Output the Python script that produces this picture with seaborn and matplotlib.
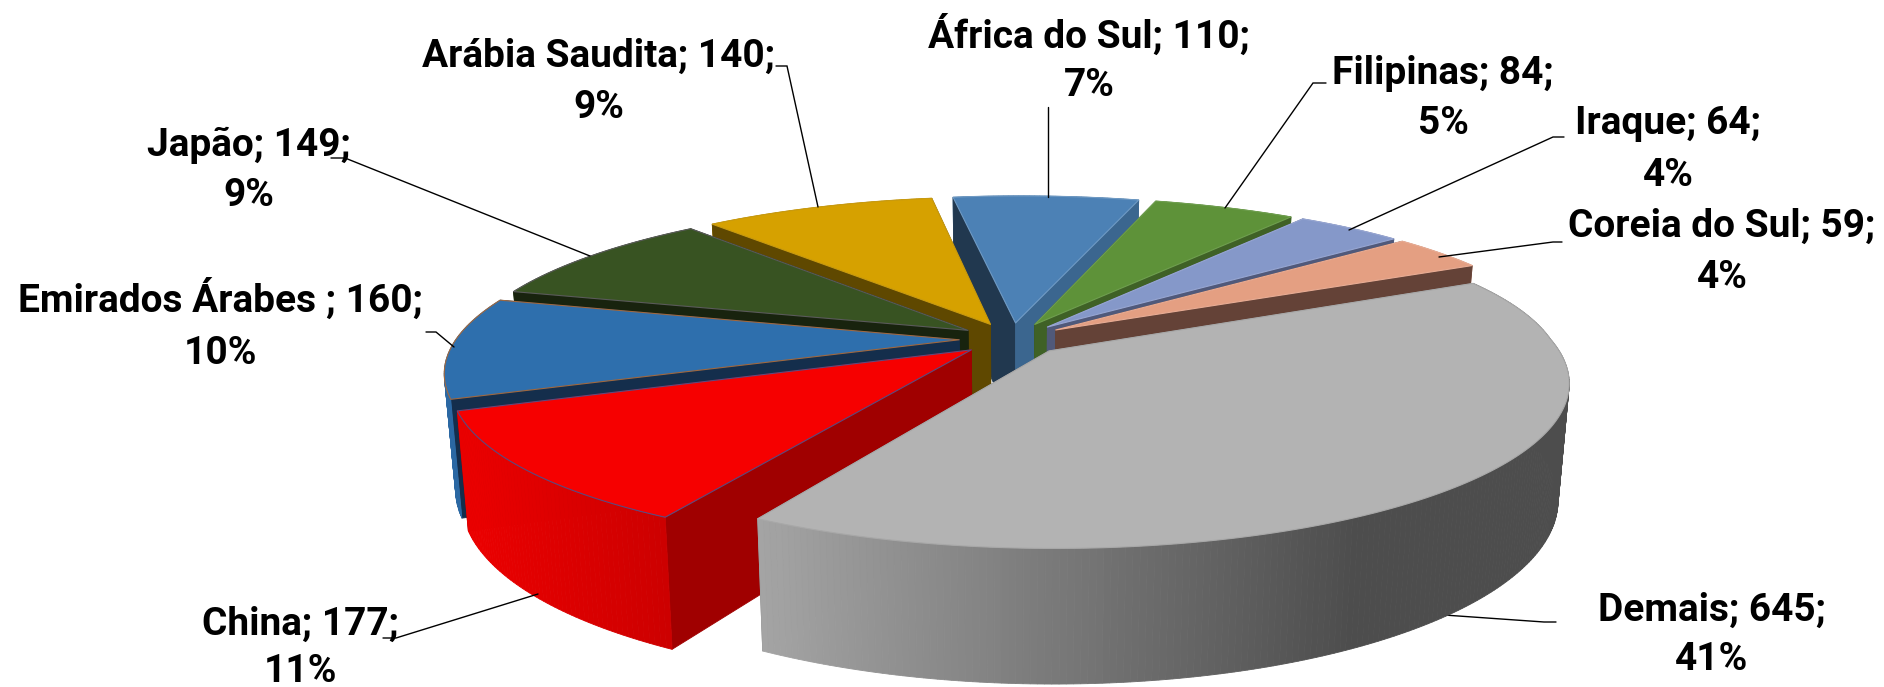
import numpy as np
import matplotlib
matplotlib.use("Agg")
import matplotlib.pyplot as plt
from matplotlib.colors import to_rgb
import seaborn as sns

# ---- data ----
names = ["Demais", "China", "Emirados Árabes ", "Japão", "Arábia Saudita",
         "África do Sul", "Filipinas", "Iraque", "Coreia do Sul"]
values = [645, 177, 160, 149, 140, 110, 84, 64, 59]

# ---- style ----
top_colors = ["#b3b3b3", "#f60000", "#2e6fad", "#385322", "#d6a100",
              "#4c81b5", "#5e9239", "#8598c9", "#e49f82"]
wall_colors = ["#a5a5a5", "#e80000", "#2b68a3", "#2f4a1c", "#b88a00",
               "#41709c", "#507d31", "#727fab", "#c28870"]
start_face = ["#808080", "#a00000", "#142e4c", "#18230e", "#5f4800",
              "#21384f", "#2f4a1c", "#50597a", "#644237"]
end_face = ["#808080", "#8a0000", "#142e4c", "#18230e", "#5f4800",
            "#3b668f", "#3f6126", "#50597a", "#644237"]
edge_colors = ["#a8a8a8", "#5b4a80", "#a0683f", "#5a5a5a", "#c89a10",
               "#6f9ac4", "#6f9f4f", "#97a6d2", "#e8ac94"]

# ---- geometry (figure pixels) ----
CX, CY = 1012, 339
RX, RY = 503, 156
K = 0.185
K_BACK_X = 0.14
SHEAR = 3
SHEAR_BACK = 4
DEPTH = 112
SHRINK = 0.02
EXPLODE = 0.105
START_ANGLE = -27.2
FONT_SIZE = 28

label_layout = [  # centre x, y of line 1, y of line 2
    (1712, 610, 660), (300, 624, 671), (220, 299, 353), (249, 145, 195),
    (599, 56, 108), (1089, 35, 86), (1443, 73, 123), (1668, 123, 175),
    (1722, 226, 277)]
leader_layout = [
    [(1556, 622), (1544, 622), (1444, 615)],
    [(383, 638), (396, 638), (538, 594)],
    [(426, 332), (436, 332), (454, 347)],
    [(331, 158), (345, 158), (590, 256)],
    [(776, 66), (787, 66), (818, 207)],
    [(1048, 107), (1048, 197)],
    [(1326, 83), (1313, 83), (1225, 208)],
    [(1564, 137), (1553, 137), (1349, 230)],
    [(1562, 242), (1553, 242), (1439, 257)]]

sns.set_theme(style="white")
plt.rcParams["font.family"] = ["Roboto", "DejaVu Sans"]
top_palette = sns.color_palette(top_colors)

fig, ax = plt.subplots(figsize=(18.84, 6.87), dpi=100)
ax.set_position([0, 0, 1, 1])
ax.set_xlim(0, 1884)
ax.set_ylim(687, 0)
ax.axis("off")


def project(wx, wz, h=0.0):
    wx, wz = np.asarray(wx, float), np.asarray(wz, float)
    f = 1 - K * wz
    fx = np.where((wz < 0) & (wx > 0), 1 - K_BACK_X * wz, f)
    s = 1 - SHRINK * h
    return (CX + RX * s * wx / fx - SHEAR * np.maximum(wz, 0) - SHEAR_BACK * np.minimum(wz, 0),
            CY + (RY * s * wz + h * DEPTH) / f)


def quad(ax_, pts, color, z, lw=0.6):
    ax_.fill([p[0] for p in pts], [p[1] for p in pts], facecolor=color,
             edgecolor=color, linewidth=lw, zorder=z)


def wall_color(i, x):
    if i == 0:  # Demais: grey gradient darkening to the right
        t = np.clip((x - 755) / (1357 - 755), 0, 1)
        a, b = np.array(to_rgb("#a5a5a5")), np.array(to_rgb("#4d4d4d"))
        return tuple(a + (b - a) * t)
    if i == 1:  # China: red gradient
        t = np.clip((x - 470) / (670 - 470), 0, 1)
        a, b = np.array(to_rgb("#ea0000")), np.array(to_rgb("#cc0000"))
        return tuple(a + (b - a) * t)
    return wall_colors[i]


total = sum(values)
spans = [360.0 * v / total for v in values]
starts = np.concatenate([[START_ANGLE], START_ANGLE + np.cumsum(spans)[:-1]])

mids = [np.radians(st + sp / 2) for st, sp in zip(starts, spans)]
order = np.argsort([np.sin(m) for m in mids])

for rank, i in enumerate(order):
    th = np.radians(np.linspace(starts[i], starts[i] + spans[i], max(int(spans[i] * 1.5), 12)))
    ox, oz = EXPLODE * np.cos(mids[i]), EXPLODE * np.sin(mids[i])
    wx, wz = ox + np.cos(th), oz + np.sin(th)
    base = 10 * (rank + 1)

    # pieces of the side, sorted back to front
    pieces = []
    for j, ang, col in ((0, th[0], start_face[i]), (-1, th[-1], end_face[i])):
        a = project(ox, oz), project(wx[j], wz[j]), project(wx[j], wz[j], 1), project(ox, oz, 1)
        pieces.append((np.sin(ang) / 2, a, col))
    for j in range(len(th) - 1):
        a = (project(wx[j], wz[j]), project(wx[j + 1], wz[j + 1]),
             project(wx[j + 1], wz[j + 1], 1), project(wx[j], wz[j], 1))
        xm = (a[0][0] + a[1][0]) / 2
        pieces.append(((np.sin(th[j]) + np.sin(th[j + 1])) / 2, a, wall_color(i, xm)))
    pieces.sort(key=lambda p: p[0])
    for _, pts, col in pieces:
        quad(ax, pts, col, base)

    # top surface
    tx, ty = project(wx, wz)
    ax_x = np.concatenate([[project(ox, oz)[0]], tx])
    ax_y = np.concatenate([[project(ox, oz)[1]], ty])
    ax.fill(ax_x, ax_y, facecolor=top_palette[i], edgecolor=edge_colors[i],
            linewidth=0.8, joinstyle="round", zorder=base + 1)

# labels and leader lines
for i, name in enumerate(names):
    pct = round(100 * values[i] / total)
    xc, y1, y2 = label_layout[i]
    ax.text(xc, y1, f"{name}; {values[i]};", ha="center", va="center",
            fontsize=FONT_SIZE, fontweight="bold", color="black", zorder=500)
    ax.text(xc, y2, f"{pct}%", ha="center", va="center",
            fontsize=FONT_SIZE, fontweight="bold", color="black", zorder=500)
    lx, ly = zip(*leader_layout[i])
    ax.plot(lx, ly, color="black", linewidth=1.0, zorder=400 if i else 5,
            solid_joinstyle="miter")

fig.savefig("out.png", dpi=100, facecolor="white")
